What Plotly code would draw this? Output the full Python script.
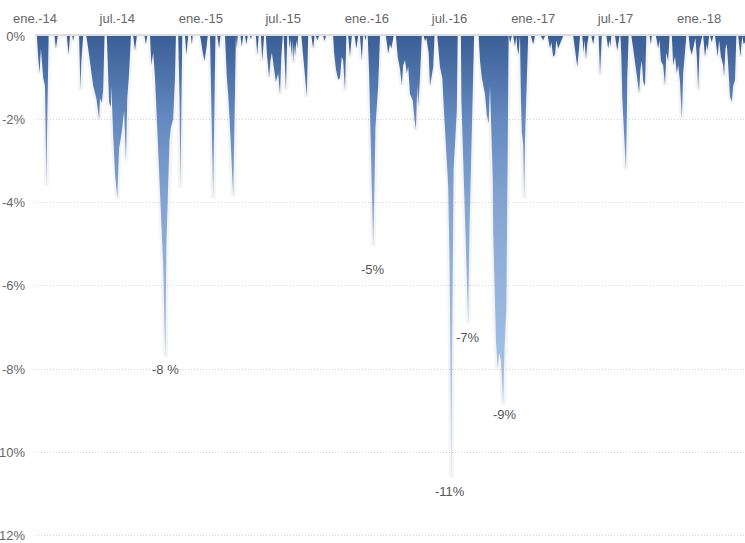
import plotly.graph_objects as go

# ---------------- DATA ----------------
dates = [
    "2014-01-01", "2014-01-05", "2014-01-08", "2014-01-11", "2014-01-14", "2014-01-19", "2014-01-23", "2014-01-26", "2014-01-28", "2014-01-31",
    "2014-02-13", "2014-02-16", "2014-02-20", "2014-03-12", "2014-03-16", "2014-03-19", "2014-03-24", "2014-03-26", "2014-03-28",
    "2014-04-08", "2014-04-11", "2014-04-13", "2014-04-17", "2014-04-24", "2014-04-28", "2014-05-02", "2014-05-09", "2014-05-16",
    "2014-05-22", "2014-05-24", "2014-05-28", "2014-05-31", "2014-06-03", "2014-06-08", "2014-06-13", "2014-06-17", "2014-06-18",
    "2014-06-22", "2014-06-26", "2014-07-01", "2014-07-05", "2014-07-11", "2014-07-16", "2014-07-20", "2014-07-23", "2014-07-27",
    "2014-07-31", "2014-08-05", "2014-08-09", "2014-08-13", "2014-08-30", "2014-09-02", "2014-09-05", "2014-09-11", "2014-09-14",
    "2014-09-18", "2014-09-22", "2014-09-26", "2014-10-01", "2014-10-05", "2014-10-10", "2014-10-13", "2014-10-15", "2014-10-17",
    "2014-10-21", "2014-10-24", "2014-10-27", "2014-11-01", "2014-11-05", "2014-11-07", "2014-11-12", "2014-11-15", "2014-11-17",
    "2014-11-19", "2014-11-21", "2014-11-27", "2014-11-30", "2014-12-04", "2014-12-10", "2014-12-12", "2014-12-14", "2014-12-30",
    "2015-01-01", "2015-01-05", "2015-01-09", "2015-01-13", "2015-01-16", "2015-01-21", "2015-01-23", "2015-01-26", "2015-01-28",
    "2015-01-31", "2015-02-02", "2015-02-06", "2015-02-10", "2015-02-13", "2015-02-23", "2015-02-27", "2015-03-02", "2015-03-06",
    "2015-03-10", "2015-03-13", "2015-03-16", "2015-03-19", "2015-03-21", "2015-03-23", "2015-03-29", "2015-04-01", "2015-04-04",
    "2015-04-08", "2015-04-11", "2015-04-14", "2015-04-19", "2015-04-21", "2015-04-23", "2015-05-02", "2015-05-05", "2015-05-08",
    "2015-05-13", "2015-05-16", "2015-05-20", "2015-05-24", "2015-05-26", "2015-05-31", "2015-06-03", "2015-06-06", "2015-06-11",
    "2015-06-15", "2015-06-20", "2015-06-24", "2015-06-27", "2015-06-30", "2015-07-02", "2015-07-07", "2015-07-10", "2015-07-13",
    "2015-07-15", "2015-07-17", "2015-07-19", "2015-07-21", "2015-07-23", "2015-07-25", "2015-07-27", "2015-07-30", "2015-08-01",
    "2015-08-03", "2015-08-10", "2015-08-15", "2015-08-18", "2015-08-22", "2015-08-25", "2015-09-01", "2015-09-05", "2015-09-08",
    "2015-09-11", "2015-09-14", "2015-09-18", "2015-09-27", "2015-09-30", "2015-10-03", "2015-10-19", "2015-10-21", "2015-10-25",
    "2015-10-30", "2015-11-03", "2015-11-07", "2015-11-10", "2015-11-14", "2015-11-17", "2015-11-21", "2015-11-25", "2015-11-29",
    "2015-12-05", "2015-12-09", "2015-12-13", "2015-12-17", "2015-12-21", "2015-12-24", "2015-12-27", "2015-12-29", "2015-12-31",
    "2016-01-03", "2016-01-06", "2016-01-08", "2016-01-10", "2016-01-12", "2016-01-15", "2016-01-18", "2016-01-20", "2016-01-23",
    "2016-01-26", "2016-01-30", "2016-02-12", "2016-02-17", "2016-02-21", "2016-02-24", "2016-02-29", "2016-03-05", "2016-03-09",
    "2016-03-14", "2016-03-18", "2016-03-21", "2016-03-25", "2016-03-29", "2016-04-01", "2016-04-05", "2016-04-11", "2016-04-15",
    "2016-04-18", "2016-04-21", "2016-04-23", "2016-04-27", "2016-05-01", "2016-05-05", "2016-05-08", "2016-05-11", "2016-05-16",
    "2016-05-19", "2016-05-23", "2016-05-26", "2016-05-29", "2016-06-04", "2016-06-10", "2016-06-15", "2016-06-19", "2016-06-23",
    "2016-06-28", "2016-07-01", "2016-07-03", "2016-07-05", "2016-07-07", "2016-07-10", "2016-07-14", "2016-07-17", "2016-07-19",
    "2016-07-26", "2016-07-27", "2016-07-31", "2016-08-04", "2016-08-08", "2016-08-11", "2016-08-14", "2016-08-18", "2016-08-22",
    "2016-08-24", "2016-09-03", "2016-09-06", "2016-09-10", "2016-09-17", "2016-09-21", "2016-09-25", "2016-09-28", "2016-09-30",
    "2016-10-04", "2016-10-05", "2016-10-09", "2016-10-11", "2016-10-15", "2016-10-18", "2016-10-22", "2016-10-27", "2016-10-30",
    "2016-11-01", "2016-11-03", "2016-11-05", "2016-11-06", "2016-11-08", "2016-11-09", "2016-11-11", "2016-11-15", "2016-11-18",
    "2016-11-22", "2016-11-25", "2016-11-27", "2016-11-30", "2016-12-02", "2016-12-03", "2016-12-05", "2016-12-07", "2016-12-10",
    "2016-12-12", "2016-12-14", "2016-12-17", "2016-12-19", "2016-12-21", "2016-12-27", "2017-01-01", "2017-01-05", "2017-01-18",
    "2017-01-23", "2017-01-27", "2017-02-02", "2017-02-07", "2017-02-10", "2017-02-14", "2017-02-18", "2017-02-21", "2017-02-25",
    "2017-03-01", "2017-03-08", "2017-03-30", "2017-04-04", "2017-04-08", "2017-04-12", "2017-04-14", "2017-04-19", "2017-04-22",
    "2017-04-24", "2017-04-27", "2017-04-30", "2017-05-03", "2017-05-09", "2017-05-13", "2017-05-16", "2017-05-25", "2017-05-28",
    "2017-06-01", "2017-06-11", "2017-06-15", "2017-06-18", "2017-06-20", "2017-06-22", "2017-06-30", "2017-07-05", "2017-07-10",
    "2017-07-12", "2017-07-14", "2017-07-16", "2017-07-19", "2017-07-22", "2017-07-24", "2017-07-26", "2017-07-27", "2017-07-30",
    "2017-08-05", "2017-08-09", "2017-08-13", "2017-08-17", "2017-08-22", "2017-08-25", "2017-08-28", "2017-08-31", "2017-09-04",
    "2017-09-07", "2017-09-14", "2017-09-17", "2017-09-19", "2017-09-28", "2017-10-03", "2017-10-06", "2017-10-09", "2017-10-14",
    "2017-10-18", "2017-10-21", "2017-10-25", "2017-10-28", "2017-11-02", "2017-11-05", "2017-11-09", "2017-11-13", "2017-11-16",
    "2017-11-20", "2017-11-24", "2017-11-27", "2017-12-01", "2017-12-04", "2017-12-09", "2017-12-12", "2017-12-16", "2017-12-21",
    "2017-12-24", "2017-12-27", "2017-12-30", "2018-01-02", "2018-01-04", "2018-01-08", "2018-01-10", "2018-01-14", "2018-01-18",
    "2018-01-20", "2018-01-23", "2018-01-25", "2018-01-29", "2018-02-01", "2018-02-05", "2018-02-11", "2018-02-14", "2018-02-18",
    "2018-02-23", "2018-02-25", "2018-02-28", "2018-03-03", "2018-03-06", "2018-03-10", "2018-03-14", "2018-03-17", "2018-03-21",
    "2018-03-24", "2018-03-28", "2018-03-31", "2018-04-02", "2018-04-06", "2018-04-09", "2018-04-12",
]

drawdown = [
    0, 0, -0.5, -0.9, -0.3, -1.0, -1.2, -3.6, -2.0, 0,
    0, -0.3, 0, 0, -0.45, 0, 0, -0.12, 0,
    0, -1.3, -0.6, 0, 0, -0.3, -0.6, -1.2, -1.5,
    -2.0, -1.5, -1.6, -1.3, 0, 0, -1.6, -1.7, -1.2,
    -2.4, -3.3, -3.9, -2.7, -2.3, -1.8, -3.0, -1.5, -0.9,
    0, 0, -0.35, 0, 0, -0.2, 0, 0, -0.7,
    -0.4, -1.0, -2.0, -3.2, -4.2, -5.5, -7.0, -7.7, -5.0,
    -3.5, -2.5, -2.2, -2.0, -1.0, 0, 0, -1.5, -3.65,
    -1.0, 0, 0, -0.45, 0, 0, -0.2, 0, 0,
    -0.1, -0.4, -0.6, -0.3, 0, 0, -1.2, -3.0, -3.9,
    -1.5, 0, 0, -0.3, 0, 0, -1.0, -1.4, -2.2,
    -3.3, -3.85, -2.0, 0, -0.3, 0, 0, -0.25, 0,
    0, -0.2, 0, 0, -0.08, 0, 0, -0.45, 0,
    0, -0.6, 0, 0, -0.4, -1.0, -0.6, -0.4, -0.8,
    -1.1, -0.9, -1.4, -0.5, 0, 0, -1.3, 0, 0,
    -0.3, -0.05, -0.5, -0.1, -0.65, -0.2, -0.5, -0.1, -0.3,
    0, 0, -0.6, -0.9, -1.46, 0, 0, -0.3, 0,
    0, -0.1, 0, 0, -0.12, 0, 0, -0.4, -0.8,
    -1.05, -1.0, -0.5, -0.6, -1.3, 0, 0, -0.5, 0,
    0, -0.3, 0, 0, -0.58, 0, 0, -0.1, 0,
    0, -0.9, -1.9, -3.0, -4.0, -5.05, -3.5, -2.2, -1.7,
    -1.2, 0, 0, -0.42, -0.2, -0.3, 0, 0, -0.5,
    -0.8, -1.18, -0.7, -0.58, -0.9, -0.73, -1.4, -1.54, -2.02,
    -2.26, -1.2, -1.7, -1.0, 0, 0, -0.12, -0.05, -0.4,
    -1.2, -0.9, -0.75, 0, 0, -0.75, -1.0, -1.85, -2.66,
    -3.6, -5.5, -8.0, -10.6, -7.0, -3.2, -2.4, -1.8, 0,
    0, -1.5, -3.0, -4.6, -6.0, -6.9, -4.6, -2.5, -1.0,
    0, 0, -0.6, -1.0, -1.4, -1.9, -2.1, -1.2, -2.0,
    -3.4, -4.7, -6.8, -7.3, -8.0, -7.6, -7.8, -8.85, -7.5,
    -7.0, -6.5, -4.0, -1.5, 0, 0, -0.17, 0, 0,
    -0.25, 0, -0.3, -0.45, -0.1, 0, -1.5, -2.3, -2.6,
    -3.9, -2.5, -1.5, -0.5, 0, 0, -0.2, 0, 0,
    -0.1, 0, 0, -0.3, -0.15, -0.5, -0.45, -0.1, -0.3,
    -0.2, 0, 0, -0.4, -0.74, -0.3, 0, 0, -0.4,
    -0.1, -0.55, -0.2, 0, 0, -0.2, 0, 0, -0.94,
    0, 0, -0.3, -0.1, -0.25, 0, 0, -0.35, 0,
    0, -0.5, -1.5, -2.3, -2.8, -3.2, -2.0, -1.0, 0,
    0, -0.3, -0.6, -1.0, -1.37, -0.8, -0.6, -1.1, -1.2,
    0, 0, -0.2, 0, 0, -0.3, -0.1, -0.6, -0.7,
    -1.18, -0.4, -0.6, 0, 0, -0.7, -0.5, -0.9, -0.7,
    -1.1, -2.0, -0.9, -0.4, 0, 0, -0.3, -0.45, -0.2,
    -0.05, -0.5, -1.3, -0.3, -0.2, 0, 0, -0.5, -0.2,
    -0.35, 0, 0, -0.15, 0, 0, -0.5, -0.1, -0.5,
    -0.7, -0.98, -0.3, -0.2, -0.7, -1.46, -1.58, -1.2, -1.06,
    0, 0, -0.3, -0.5, 0, -0.2, -0.15,
]

tick_dates = ["2014-01-01", "2014-07-01", "2015-01-01", "2015-07-01", "2016-01-01",
              "2016-07-01", "2017-01-01", "2017-07-01", "2018-01-01"]
tick_labels = ["ene.-14", "jul.-14", "ene.-15", "jul.-15", "ene.-16",
               "jul.-16", "ene.-17", "jul.-17", "ene.-18"]

y_ticks = [0, -2, -4, -6, -8, -10, -12]
y_tick_labels = ["0%", "-2%", "-4%", "-6%", "-8%", "-10%", "-12%"]

label_dates = ["2014-10-15", "2016-01-14", "2016-08-10", "2016-07-03", "2016-10-31"]
label_values = [-8.0, -5.6, -7.25, -10.94, -9.1]
label_texts = ["-8 %", "-5%", "-7%", "-11%", "-9%"]

# ---------------- FIGURE ----------------
fig = go.Figure()

# soft shadow under the area
fig.add_trace(go.Scatter(
    x=dates, y=drawdown, mode="lines",
    line=dict(color="rgba(0,0,0,0.045)", width=5),
    hoverinfo="skip", showlegend=False,
))

fig.add_trace(go.Scatter(
    x=dates, y=drawdown, mode="lines",
    line=dict(width=0, color="#3b6199"),
    fill="tozeroy",
    fillgradient=dict(
        type="vertical",
        colorscale=[[0, "#bcd2ee"], [0.27, "#a3c0e5"], [0.45, "#95b4dc"],
                    [0.64, "#83a4d2"], [0.82, "#6489bf"], [0.91, "#4f74ac"],
                    [1, "#3a5f97"]],
        start=-11, stop=0,
    ),
    showlegend=False,
))

for d, v, t in zip(label_dates, label_values, label_texts):
    fig.add_annotation(x=d, y=v, text=t, showarrow=False,
                       font=dict(family="Liberation Sans, Arial, sans-serif", size=13, color="#555555"))

fig.update_layout(
    width=745, height=543,
    margin=dict(l=35, r=0, t=36, b=6),
    paper_bgcolor="white", plot_bgcolor="white",
    font=dict(family="Liberation Sans, Arial, sans-serif", size=13, color="#666666"),
    xaxis=dict(
        type="date", side="top", automargin=False,
        range=["2014-01-01", "2018-04-12"],
        tickvals=tick_dates, ticktext=tick_labels,
        showgrid=False, zeroline=False,
        showline=True, linecolor="#dddddd", linewidth=2,
        ticks="", ticklabelstandoff=6,
        tickfont=dict(size=13, color="#666666"),
    ),
    yaxis=dict(
        range=[-12.03, 0], automargin=False,
        tickvals=y_ticks, ticktext=y_tick_labels,
        showgrid=True, gridcolor="#d4d4d4", griddash="1px,2px", gridwidth=1,
        zeroline=False, showline=False, ticks="",
        ticklabelstandoff=9, ticklabeloverflow="allow",
        tickfont=dict(size=13, color="#666666"),
    ),
)

# remove the browser's default 8px page margin so the chart fills the window exactly
fig.write_html("out.html", config={"displayModeBar": False},
               post_script="document.body.style.margin='0px';")
